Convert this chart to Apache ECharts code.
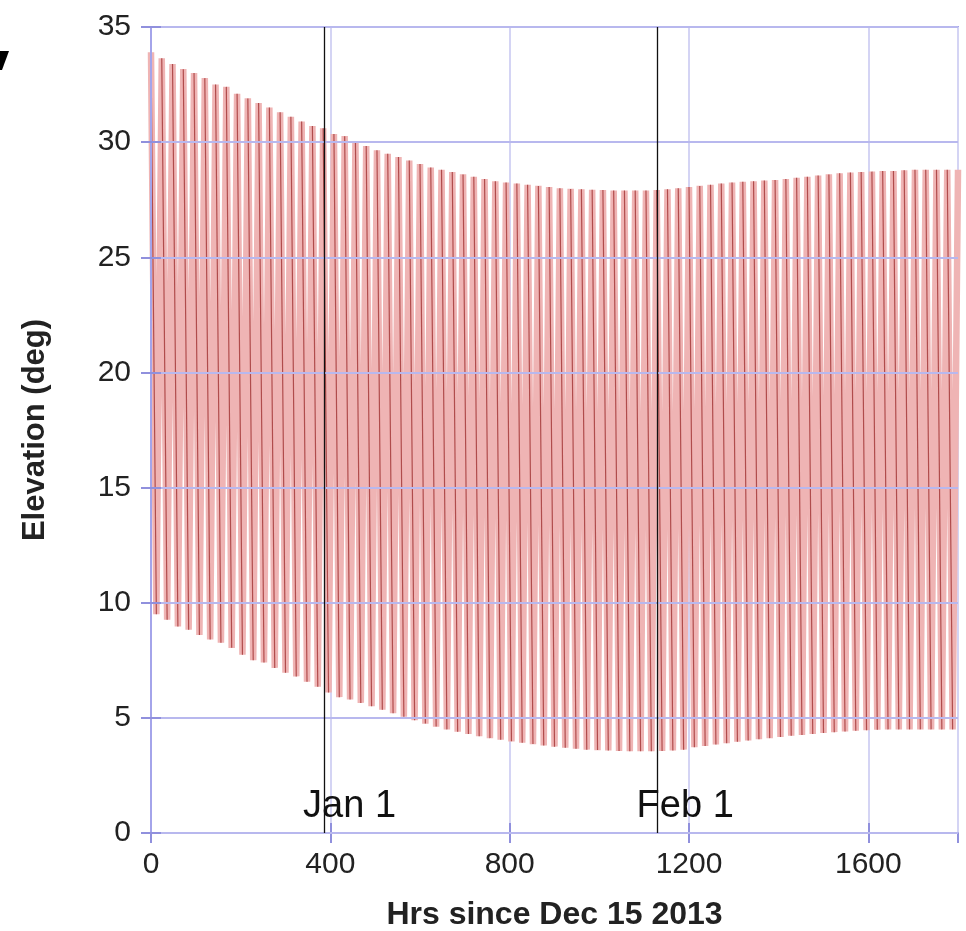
<!DOCTYPE html>
<html>
<head>
<meta charset="utf-8">
<title>Elevation</title>
<script src="https://cdn.jsdelivr.net/npm/echarts@6/dist/echarts.min.js"></script>
<style>
  html, body { margin: 0; padding: 0; background: #fff; }
  #chart { width: 966px; height: 931px; }
</style>
</head>
<body>
<div id="chart"></div>
<script>
// Daily maximum elevation (deg), one value per day starting at hour 0
const peakElev = [
  33.9, 33.64, 33.39, 33.17, 33.0, 32.78, 32.5, 32.4, 32.1, 31.9,
  31.7, 31.5, 31.3, 31.1, 30.9, 30.7, 30.6, 30.35, 30.26, 30.0,
  29.83, 29.65, 29.5, 29.35, 29.2, 29.05, 28.9, 28.8, 28.7, 28.6,
  28.5, 28.4, 28.3, 28.25, 28.2, 28.15, 28.1, 28.05, 28.0, 27.97,
  27.95, 27.93, 27.92, 27.9, 27.9, 27.9, 27.9, 27.92, 27.95, 28.0,
  28.05, 28.1, 28.15, 28.2, 28.25, 28.28, 28.3, 28.33, 28.36, 28.4,
  28.45, 28.5, 28.55, 28.6, 28.65, 28.68, 28.7, 28.72, 28.75, 28.75,
  28.78, 28.8, 28.8, 28.8, 28.8, 28.8
];
// Daily minimum elevation (deg), half a day after each maximum
const troughElev = [
  9.5, 9.26, 8.97, 8.83, 8.6, 8.4, 8.26, 8.04, 7.74, 7.5,
  7.4, 7.17, 6.96, 6.8, 6.57, 6.35, 6.1, 5.9, 5.8, 5.65,
  5.5, 5.35, 5.2, 5.05, 4.9, 4.75, 4.62, 4.5, 4.4, 4.3,
  4.2, 4.12, 4.05, 3.98, 3.92, 3.86, 3.8, 3.75, 3.7, 3.66,
  3.62, 3.6, 3.58, 3.56, 3.55, 3.55, 3.55, 3.56, 3.58, 3.62,
  3.72, 3.78, 3.84, 3.9, 3.96, 4.02, 4.07, 4.12, 4.17, 4.22,
  4.26, 4.3, 4.34, 4.38, 4.41, 4.44, 4.46, 4.48, 4.5, 4.5,
  4.5, 4.5, 4.5, 4.5, 4.5
];
const hoursPerDay = 24;

// Calendar markers (hours since Dec 15 2013)
const markerLabels = ['Jan 1', 'Feb 1'];
const markerHours = [386, 1130];

// Axis ticks
const xTicks = [0, 400, 800, 1200, 1600];
const yTicks = [0, 5, 10, 15, 20, 25, 30, 35];

// Build the daily swing: max at start of day, min half a day later
const swing = [];
const fallStrokes = [];
for (let i = 0; i < peakElev.length; i++) {
  const t = i * hoursPerDay;
  swing.push([t, peakElev[i]]);
  if (i < troughElev.length) {
    swing.push([t + hoursPerDay / 2, troughElev[i]]);
    fallStrokes.push([t, peakElev[i]]);
    fallStrokes.push([t + hoursPerDay / 2, troughElev[i]]);
    fallStrokes.push([t + hoursPerDay * 0.75, '-']);
  }
}

const FONT = '"Liberation Sans", Arial, Helvetica, sans-serif';
const frameColor = '#a4a4ea';
const gridColor = '#b8b8ee';
const tickColor = '#9090dd';

const chart = echarts.init(document.getElementById('chart'), null, { renderer: 'canvas' });

chart.setOption({
  animation: false,
  backgroundColor: '#ffffff',
  grid: {
    left: 151, right: 8, top: 27, bottom: 98,
    outerBoundsMode: 'none',
    show: true, borderColor: frameColor, borderWidth: 2
  },
  xAxis: [{
    type: 'value',
    min: xTicks[0], max: 1800, interval: xTicks[1] - xTicks[0],
    name: 'Hrs since Dec 15 2013',
    nameLocation: 'middle', nameGap: 66,
    nameTextStyle: { fontFamily: FONT, fontWeight: 'bold', fontSize: 32, color: '#222' },
    axisLine: { show: true, lineStyle: { color: frameColor, width: 2 } },
    axisTick: { show: true, inside: true, length: 10, lineStyle: { color: tickColor, width: 2 } },
    axisLabel: {
      fontFamily: FONT, fontSize: 30, color: '#222', margin: 17, showMaxLabel: false,
      formatter: v => String(v)
    },
    splitLine: { show: true, lineStyle: { color: '#d4d4f4', width: 2 } }
  }, {
    type: 'value', position: 'top',
    min: xTicks[0], max: 1800, interval: xTicks[1] - xTicks[0],
    axisLine: { show: false },
    axisTick: { show: true, inside: true, length: 10, lineStyle: { color: tickColor, width: 2 } },
    axisLabel: { show: false },
    splitLine: { show: false }
  }],
  yAxis: [{
    type: 'value',
    min: yTicks[0], max: yTicks[yTicks.length - 1], interval: yTicks[1] - yTicks[0],
    name: 'Elevation (deg)',
    nameLocation: 'middle', nameGap: 100, nameRotate: 90,
    nameTextStyle: { fontFamily: FONT, fontWeight: 'bold', fontSize: 31, color: '#222' },
    z: 5,
    axisLine: { show: true, lineStyle: { color: frameColor, width: 2 } },
    axisTick: { show: true, inside: true, length: 10, lineStyle: { color: tickColor, width: 2 } },
    axisLabel: { fontFamily: FONT, fontSize: 30, color: '#222', margin: 20 },
    splitLine: { show: true, lineStyle: { color: gridColor, width: 2 } }
  }, {
    type: 'value', position: 'right',
    min: yTicks[0], max: yTicks[yTicks.length - 1], interval: yTicks[1] - yTicks[0],
    z: 5,
    axisLine: { show: false },
    axisTick: { show: true, inside: true, length: 10, lineStyle: { color: tickColor, width: 2 } },
    axisLabel: { show: false },
    splitLine: { show: false }
  }],
  series: [{
    name: 'Elevation',
    type: 'line',
    data: swing,
    showSymbol: false,
    symbol: 'none',
    lineStyle: { color: '#efb4b4', width: 6.5 },
    z: 2
  }, {
    name: 'Elevation trace',
    type: 'line',
    data: fallStrokes,
    connectNulls: false,
    showSymbol: false,
    symbol: 'none',
    lineStyle: { color: '#b04c4c', width: 1.2 },
    z: 3
  }, {
    name: 'Dates',
    type: 'line',
    data: [],
    z: 6,
    markLine: {
      silent: true,
      symbol: ['none', 'none'],
      label: { show: false },
      lineStyle: { color: '#111', width: 1.3, type: 'solid' },
      data: markerHours.map(h => ({ xAxis: h }))
    },
    markPoint: {
      silent: true,
      symbol: 'circle',
      symbolSize: 1,
      itemStyle: { color: 'rgba(0,0,0,0)' },
      label: {
        show: true, position: 'inside', align: 'left', verticalAlign: 'middle',
        offset: [-21, 0], formatter: '{b}',
        fontFamily: FONT, fontSize: 38, color: '#111'
      },
      data: markerHours.map((h, i) => ({ name: markerLabels[i], coord: [h, 1.15] }))
    }
  }],
  graphic: [{
    type: 'polygon',
    shape: { points: [[0, 51], [9, 51], [2, 70], [0, 70]] },
    style: { fill: '#000' }
  }]
});
</script>
</body>
</html>
